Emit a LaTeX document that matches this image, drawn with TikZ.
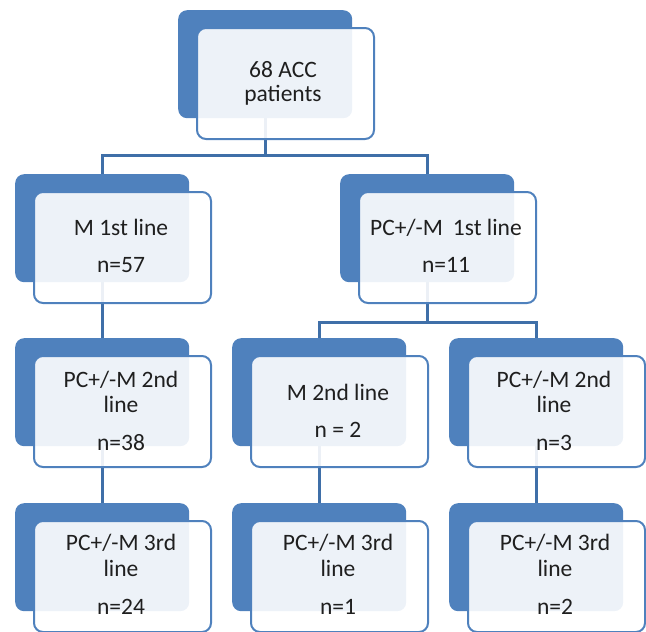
\documentclass[tikz,border=0pt]{standalone}
\usepackage{fontspec}
\setmainfont{Carlito}
\usetikzlibrary{backgrounds}
\definecolor{accent}{HTML}{4F81BD}
\definecolor{conncol}{HTML}{3F6FA8}
\begin{document}
\begin{tikzpicture}[x=1pt,y=-1pt,
  backbox/.style={fill=accent, rounded corners=9pt, minimum width=174pt, minimum height=108pt, inner sep=0pt, anchor=north west},
  frontbox/.style={fill=white, fill opacity=0.9, draw=accent, line width=2pt, rounded corners=9pt, minimum width=177pt, minimum height=111pt, inner sep=0pt, anchor=north west},
  conn/.style={draw=conncol, line width=3pt},
  lbl/.style={anchor=base, inner sep=0pt, font=\fontsize{23.5}{25}\selectfont, text=black!88}]
\useasboundingbox (0,0) rectangle (646,632);
% units: back box + front box
\node[backbox] (topb) at (178,10) {};
\node[frontbox] (topf) at (196,27) {};
\node[backbox] (l2b) at (15,174) {};
\node[frontbox] (l2f) at (33,191) {};
\node[backbox] (r2b) at (340,174) {};
\node[frontbox] (r2f) at (358,191) {};
\node[backbox] (l3b) at (15,338) {};
\node[frontbox] (l3f) at (33,355) {};
\node[backbox] (m3b) at (232,338) {};
\node[frontbox] (m3f) at (250,355) {};
\node[backbox] (r3b) at (449,338) {};
\node[frontbox] (r3f) at (467,355) {};
\node[backbox] (l4b) at (15,503) {};
\node[frontbox] (l4f) at (33,520) {};
\node[backbox] (m4b) at (232,503) {};
\node[frontbox] (m4f) at (250,520) {};
\node[backbox] (r4b) at (449,503) {};
\node[frontbox] (r4f) at (467,520) {};
% texts
\node[lbl] (t0a) at (283,77) {68 ACC};
\node[lbl] (t0b) at (283,101) {patients};
\node[lbl] (tl2a) at (121,235) {M 1st line};
\node[lbl] (tl2b) at (121,272) {n=57};
\node[lbl] (tr2a) at (446,235) {PC+/-M\hspace{0.2em} 1st line};
\node[lbl] (tr2b) at (446,272) {n=11};
\node[lbl] (tl3a) at (121,387) {PC+/-M 2nd};
\node[lbl] (tl3b) at (121,412) {line};
\node[lbl] (tl3c) at (121,450) {n=38};
\node[lbl] (tm3a) at (338,400) {M 2nd line};
\node[lbl] (tm3b) at (338,437) {n = 2};
\node[lbl] (tr3a) at (554,387) {PC+/-M 2nd};
\node[lbl] (tr3b) at (554,412) {line};
\node[lbl] (tr3c) at (554,450) {n=3};
\node[lbl] (tl4a) at (121,550) {PC+/-M 3rd};
\node[lbl] (tl4b) at (121,576) {line};
\node[lbl] (tl4c) at (121,614) {n=24};
\node[lbl] (tm4a) at (338,550) {PC+/-M 3rd};
\node[lbl] (tm4b) at (338,576) {line};
\node[lbl] (tm4c) at (338,614) {n=1};
\node[lbl] (tr4a) at (555,550) {PC+/-M 3rd};
\node[lbl] (tr4b) at (555,576) {line};
\node[lbl] (tr4c) at (555,614) {n=2};
% connectors
\begin{scope}[on background layer]
\draw[conn] (topb.south) -- ++(0,37) -| (l2b.north);
\draw[conn] (topb.south) -- ++(0,37) -| (r2b.north);
\draw[conn] (l2b.south) -- (l3b.north);
\draw[conn] (l3b.south) -- (l4b.north);
\draw[conn] (r2b.south) -- ++(0,40) -| (m3b.north);
\draw[conn] (r2b.south) -- ++(0,40) -| (r3b.north);
\draw[conn] (m3b.south) -- (m4b.north);
\draw[conn] (r3b.south) -- (r4b.north);
\end{scope}
\end{tikzpicture}
\end{document}
